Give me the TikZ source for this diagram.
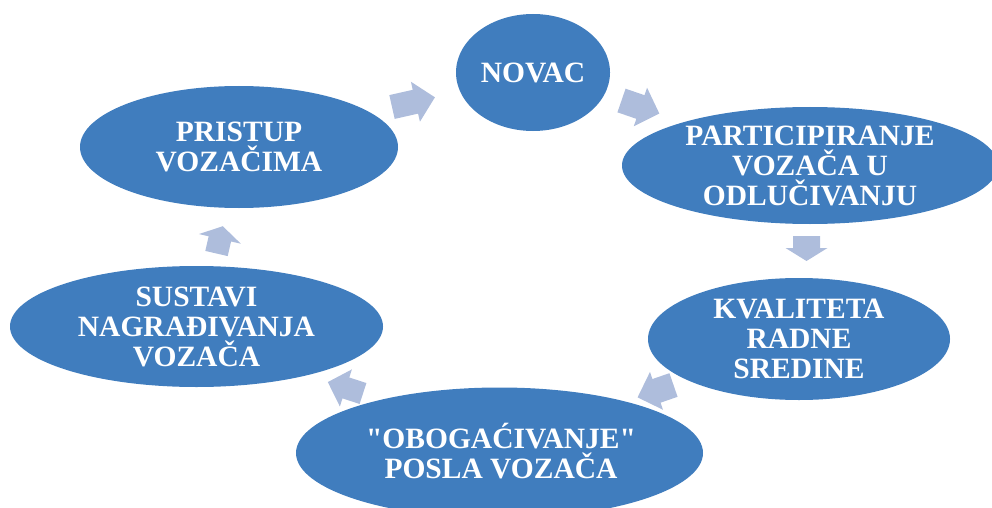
\documentclass[tikz,border=0pt]{standalone}
\usepackage{fontspec}
\setmainfont{Liberation Serif}
\usetikzlibrary{shapes.geometric}
\definecolor{ellblue}{RGB}{64,125,190}
\definecolor{arrblue}{RGB}{174,189,220}
% x, y (tail middle), angle, shaft length, head length, shaft half width, head half width
\newcommand{\cyclearrow}[7]{%
  \fill[arrblue, shift={(#1,#2)}, rotate=#3]
    (0,-#6) -- (#4,-#6) -- (#4,-#7) -- ({#4+#5},0) -- (#4,#7) -- (#4,#6) -- (0,#6) -- cycle;}
\tikzset{
  cyc/.style={ellipse, fill=ellblue, inner sep=0pt, align=center, text=white,
    font=\fontsize{29.5}{30}\selectfont\bfseries}
}
\begin{document}
\begin{tikzpicture}[x=1pt,y=-1pt]
\useasboundingbox (0,0) rectangle (992,508);
\clip (0,0) rectangle (992,508);
\node[cyc, minimum width=154pt, minimum height=117pt] (novac) at (533,72.5) {NOVAC};
\node[cyc, minimum width=376pt, minimum height=117pt] (part) at (810,165.5) {PARTICIPIRANJE\\VOZAČA U\\ODLUČIVANJU};
\node[cyc, minimum width=302pt, minimum height=122pt] (kval) at (799,339) {KVALITETA\\RADNE\\SREDINE};
\node[cyc, minimum width=407pt, minimum height=131pt] (obog) at (499.5,453) {};
\node[cyc, fill=none] (obogt) at (501,451) {\textquotedbl OBOGAĆIVANJE\textquotedbl\\POSLA VOZAČA};
\node[cyc, minimum width=373pt, minimum height=121pt] (sust) at (196.5,326.5) {SUSTAVI\\NAGRAĐIVANJA\\VOZAČA};
\node[cyc, minimum width=318pt, minimum height=122pt] (prist) at (239,147) {PRISTUP\\VOZAČIMA};
\cyclearrow{392}{107}{12.7}{24}{20}{12.2}{20.5}
\cyclearrow{621.5}{100.5}{-19}{20}{20}{12.5}{20.4}
\cyclearrow{806.5}{236}{-90}{12}{13}{13.5}{21}
\cyclearrow{673.5}{385}{199}{18}{20}{12.5}{20}
\cyclearrow{363}{393.5}{162}{18}{19}{11}{19.5}
\cyclearrow{216.5}{253.5}{77}{15}{13}{11.5}{21.5}
\end{tikzpicture}
\end{document}
